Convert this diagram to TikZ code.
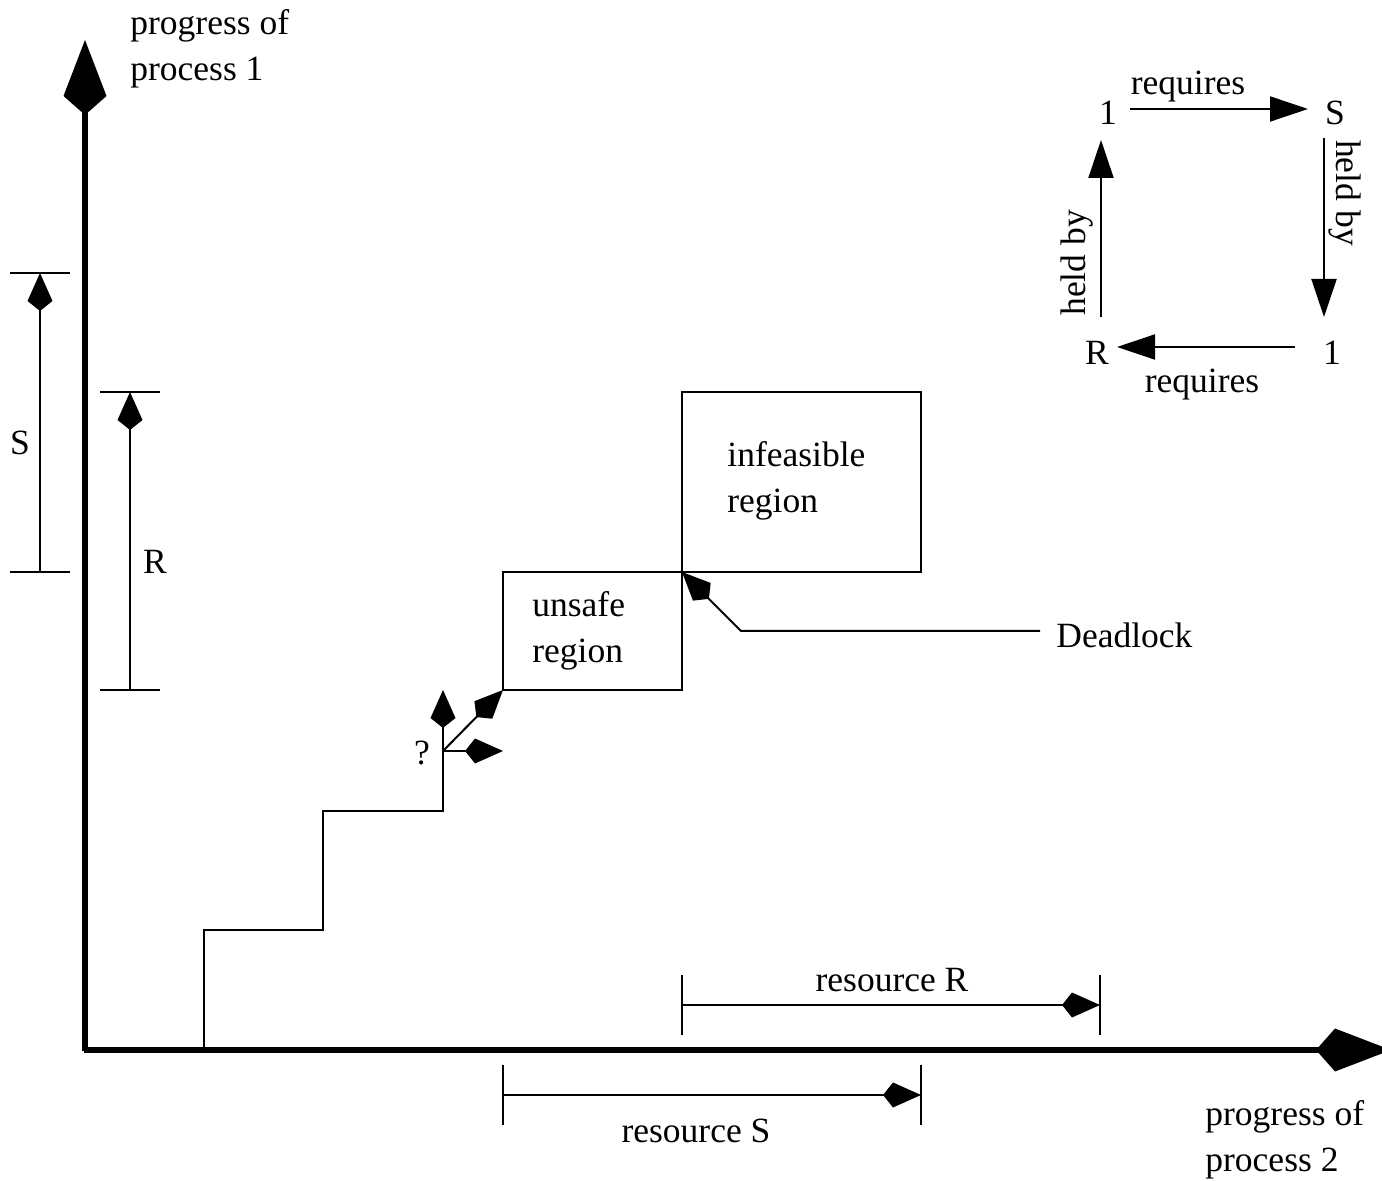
\documentclass[tikz,border=0pt]{standalone}
\usepackage{fontspec}
\setmainfont{Liberation Serif}
\usetikzlibrary{arrows.meta}
\begin{document}
\begin{tikzpicture}[x=0.5pt,y=-0.5pt,
  thinline/.style={line width=1pt},
  axis/.style={line width=2.6pt,-{Kite[length=37.5pt,width=21.5pt,inset=9.5pt]}},
  kite/.style={thinline,-{Kite[length=19pt,width=12.5pt,inset=5pt]}},
  tri/.style={thinline,-{Triangle[length=19pt,width=12.5pt]}},
  lbl/.style={font=\fontsize{17.75pt}{23pt}\selectfont,inner sep=0pt,align=left}
]
\useasboundingbox (0,0) rectangle (1382,1181);

% axes
\coordinate (o) at (85,1050);
\coordinate (oy) at (85,1051.3);
\coordinate (ox) at (83.7,1050);
\coordinate (ytip) at (85,40);
\coordinate (xtip) at (1391,1050);
\draw[axis] (oy) -- (ytip);
\draw[axis] (ox) -- (xtip);
\node[lbl,anchor=west] (py) at (130,49) {progress of\\process 1};
\node[lbl,anchor=west] (px) at (1205,1140) {progress of\\process 2};

% resource intervals along process 1
\coordinate (s0) at (40,572); \coordinate (s1) at (40,273);
\draw[kite] (s0) -- (s1);
\draw[thinline] (10,273) -- (70,273) (10,572) -- (70,572);
\node[lbl] (sl) at (20,443) {S};
\coordinate (r0) at (130,690); \coordinate (r1) at (130,392);
\draw[kite] (r0) -- (r1);
\draw[thinline] (100,392) -- (160,392) (100,690) -- (160,690);
\node[lbl] (rl) at (155,562) {R};

% resource intervals along process 2
\coordinate (rr0) at (682,1005); \coordinate (rr1) at (1100,1005);
\draw[kite] (rr0) -- (rr1);
\draw[thinline] (682,975) -- (682,1035) (1100,975) -- (1100,1035);
\node[lbl] (rrl) at (892,980) {resource R};
\coordinate (ss0) at (503,1095); \coordinate (ss1) at (921,1095);
\draw[kite] (ss0) -- (ss1);
\draw[thinline] (503,1065) -- (503,1125) (921,1065) -- (921,1125);
\node[lbl] (ssl) at (696,1131) {resource S};

% regions
\draw[thinline] (503,572) rectangle (682,690);
\node[lbl,anchor=west] (unsafe) at (532,631) {unsafe\\region};
\draw[thinline] (682,392) rectangle (921,572);
\node[lbl,anchor=west] (infeas) at (727,481) {infeasible\\region};

% trajectory
\coordinate (q) at (443,751);
\draw[thinline] (204,1050) |- (323,930) |- (443,811) -- (q);
\draw[kite] (q) -- (443,690);
\draw[kite] (q) -- (503,690);
\draw[kite] (q) -- (503,751);
\node[lbl] (qm) at (422,753) {?};

% deadlock pointer
\node[lbl,anchor=west] (dl) at (1056,635) {Deadlock};
\coordinate (dk) at (682,572);
\draw[kite] (1040,631) -- (741,631) -- (dk);

% wait-for cycle
\node[lbl] (c1) at (1108,113) {1};
\node[lbl] (cs) at (1335,113) {S};
\node[lbl] (cr) at (1097,353) {R};
\node[lbl] (c2) at (1332,353) {1};
\draw[tri] (1130,109) -- (1308,109);
\node[lbl] at (1188,87) {requires};
\draw[tri] (1324,138) -- (1324,317);
\node[lbl,rotate=-90] at (1345,193) {held by};
\draw[tri] (1295,347) -- (1117,347);
\node[lbl] at (1202,385) {requires};
\draw[tri] (1101,317) -- (1101,140);
\node[lbl,rotate=90] at (1077,263) {held by};
\end{tikzpicture}
\end{document}
